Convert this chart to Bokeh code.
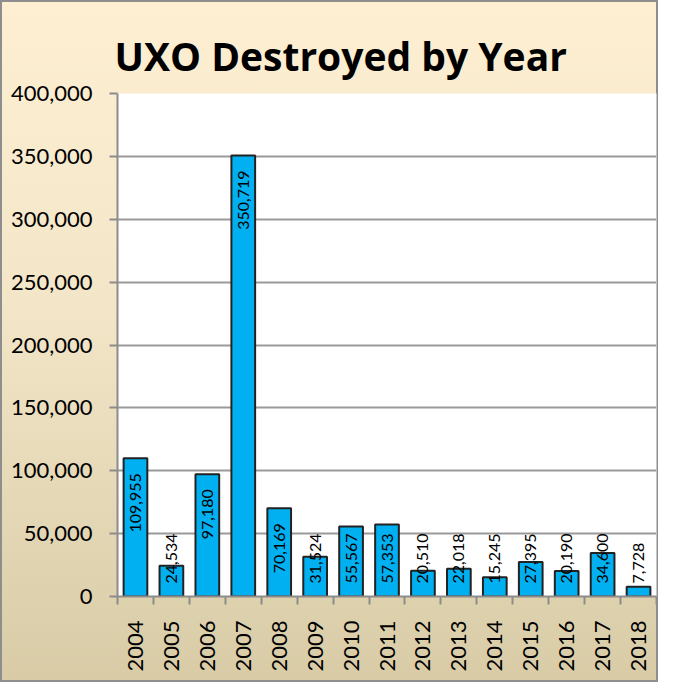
import math
from bokeh.plotting import figure
from bokeh.models import ColumnDataSource, FixedTicker, NumeralTickFormatter, Range1d
from bokeh.core.properties import value
from bokeh.embed import file_html
from bokeh.resources import INLINE

# ---- data ----
years = ["2004", "2005", "2006", "2007", "2008", "2009", "2010", "2011",
         "2012", "2013", "2014", "2015", "2016", "2017", "2018"]
destroyed = [109955, 24534, 97180, 350719, 70169, 31524, 55567, 57353,
             20510, 22018, 15245, 27395, 20190, 34600, 7728]
y_ticks = [0, 50000, 100000, 150000, 200000, 250000, 300000, 350000, 400000]

FONT = "Lato"
xs = list(range(len(years)))
labels = [f"{v:,}" for v in destroyed]

# label placement (Excel-like "inside end", pushed up when too short)
y_max = 400000
frame_h = 503
unit_per_px = y_max / frame_h
top_gap = 15 * unit_per_px
label_len = 52 * unit_per_px
min_bottom = 13 * unit_per_px
lab_y, lab_align = [], []
for v in destroyed:
    top = v - top_gap
    if top - label_len >= min_bottom:
        lab_y.append(top)
        lab_align.append("right")
    else:
        lab_y.append(min_bottom)
        lab_align.append("left")

src = ColumnDataSource(dict(x=xs, top=destroyed, lab=labels, ly=lab_y, la=lab_align))

p = figure(width=658, height=682, output_backend="svg", toolbar_location=None,
           x_range=Range1d(-0.5, len(years) - 0.5), y_range=Range1d(0, y_max),
           min_border_left=117, min_border_right=2, min_border_top=93, min_border_bottom=86)

p.styles = {"background": "linear-gradient(to bottom, #FEEFD3 0%, #F3E6C8 45%, #D8CBA6 100%)",
            "outline": "2px solid #8E8E8E", "outline-offset": "-2px"}
p.border_fill_alpha = 0
p.background_fill_color = "white"
p.outline_line_color = None

p.title.text = "UXO Destroyed by Year"
p.title.text_font = "Open Sans"
p.title.text_font_style = "bold"
p.title.text_font_size = "39px"
p.title.align = "left"
p.title.offset = -3
p.title.text_color = "black"
p.title.standoff = 24

p.vbar(x="x", top="top", width=0.66, source=src, fill_color="#00B0F0",
       line_color="#222222", line_width=2)

p.text(x="x", y="ly", text="lab", source=src, angle=math.pi / 2,
       text_align="la", text_baseline="middle", text_font=value(FONT),
       text_font_size="16px", text_color="black")

# y axis
p.yaxis.ticker = FixedTicker(ticks=y_ticks)
p.yaxis.formatter = NumeralTickFormatter(format="0,0")
p.yaxis.major_label_text_font = FONT
p.yaxis.major_label_text_font_size = "22px"
p.yaxis.major_label_text_color = "black"
p.yaxis.axis_line_color = "#8C8C8C"
p.yaxis.axis_line_width = 2
p.yaxis.major_tick_line_color = "#8C8C8C"
p.yaxis.major_tick_line_width = 2
p.yaxis.major_tick_out = 8
p.yaxis.major_tick_in = 0
p.yaxis.minor_tick_line_color = None
p.yaxis.major_label_standoff = 17

# x axis: labels at centres, ticks at category boundaries
p.xaxis.ticker = FixedTicker(ticks=xs, minor_ticks=[i - 0.5 for i in range(len(years) + 1)])
p.xaxis.major_label_overrides = {i: y for i, y in zip(xs, years)}
p.xaxis.major_label_orientation = math.pi / 2
p.xaxis.major_label_text_font = FONT
p.xaxis.major_label_text_font_size = "22px"
p.xaxis.major_label_text_color = "black"
p.xaxis.major_tick_line_color = None
p.xaxis.major_tick_out = 8
p.xaxis.minor_tick_line_color = "#8C8C8C"
p.xaxis.minor_tick_line_width = 2
p.xaxis.minor_tick_out = 8
p.xaxis.minor_tick_in = 0
p.xaxis.axis_line_color = "#8C8C8C"
p.xaxis.axis_line_width = 2
p.xaxis.major_label_standoff = 16

p.xgrid.grid_line_color = None
p.ygrid.grid_line_color = "#9A9A9A"
p.ygrid.grid_line_width = 2

open("out.html", "w").write(file_html(p, INLINE))
